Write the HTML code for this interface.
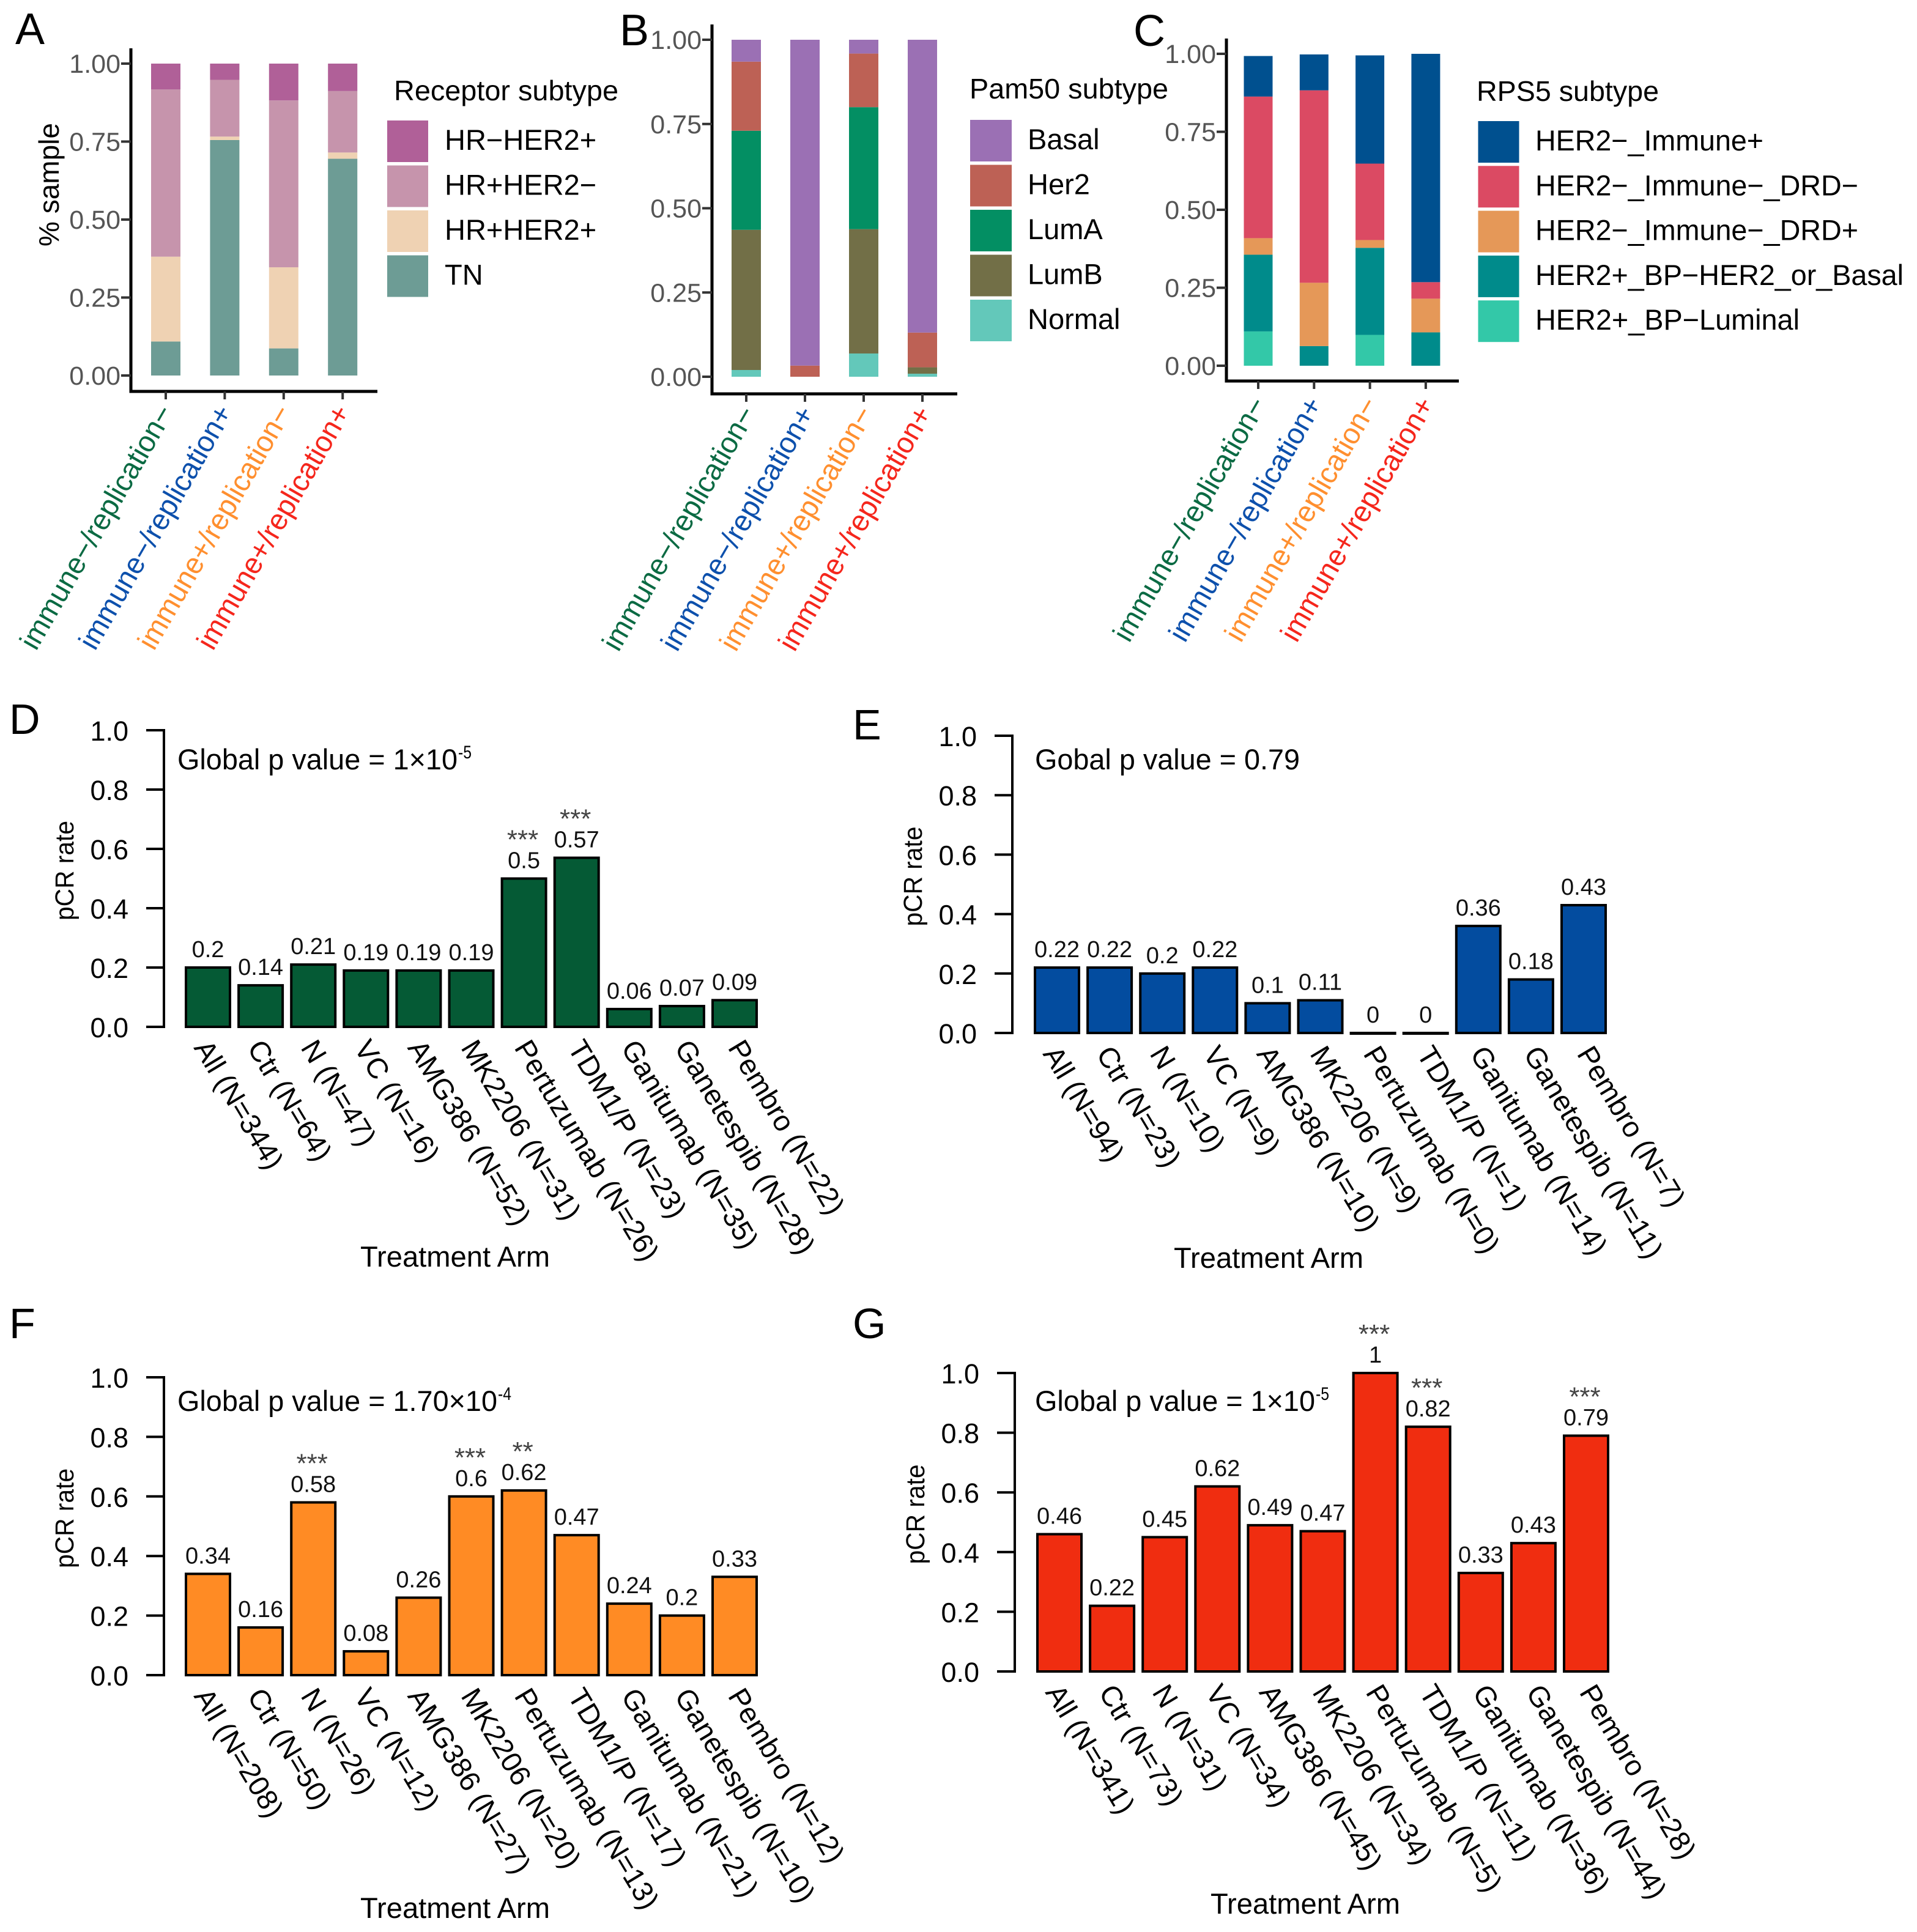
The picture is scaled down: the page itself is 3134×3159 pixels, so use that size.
<!DOCTYPE html>
<html lang="en">
<head>
<meta charset="utf-8">
<title>Response predictive subtypes and pCR rates</title>
<style>
html,body{margin:0;padding:0;background:#fff;}
svg{display:block;}
text{font-family:"Liberation Sans",Arial,sans-serif;}
</style>
</head>
<body>
<svg id="figure" xmlns="http://www.w3.org/2000/svg" width="3134" height="3159" viewBox="0 0 3134 3159"></svg>
<script>
// ---------- stacked chart data ----------
const groupLabels = ['immune\u2212/replication\u2212', 'immune\u2212/replication+', 'immune+/replication\u2212', 'immune+/replication+'];
const stackTicks = [0, 0.25, 0.5, 0.75, 1];
const stackTickLabels = ['0.00', '0.25', '0.50', '0.75', '1.00'];

const receptorNames = ['TN', 'HR+HER2+', 'HR+HER2\u2212', 'HR\u2212HER2+'];
const receptorTN = [0.109, 0.755, 0.087, 0.695];
const receptorHRpHER2p = [0.272, 0.011, 0.260, 0.020];
const receptorHRpHER2n = [0.536, 0.182, 0.535, 0.197];
const receptorHRnHER2p = [0.083, 0.052, 0.118, 0.088];

const pam50Names = ['Normal', 'LumB', 'LumA', 'Her2', 'Basal'];
const pam50Normal = [0.020, 0, 0.069, 0.009];
const pam50LumB = [0.416, 0, 0.369, 0.019];
const pam50LumA = [0.294, 0, 0.362, 0];
const pam50Her2 = [0.205, 0.033, 0.159, 0.103];
const pam50Basal = [0.065, 0.967, 0.041, 0.869];

const rps5Names = ['HER2+_BP\u2212Luminal', 'HER2+_BP\u2212HER2_or_Basal', 'HER2\u2212_Immune\u2212_DRD+', 'HER2\u2212_Immune\u2212_DRD\u2212', 'HER2\u2212_Immune+'];
const rps5Luminal = [0.110, 0, 0.099, 0];
const rps5HER2Basal = [0.246, 0.063, 0.279, 0.107];
const rps5DRDp = [0.053, 0.203, 0.025, 0.108];
const rps5DRDn = [0.454, 0.617, 0.245, 0.053];
const rps5Immune = [0.130, 0.115, 0.347, 0.732];

// ---------- pCR bar chart data ----------
const pcrTicks = [0, 0.2, 0.4, 0.6, 0.8, 1];
const pcrTickLabels = ['0.0', '0.2', '0.4', '0.6', '0.8', '1.0'];

const armsD = ['All (N=344)', 'Ctr (N=64)', 'N (N=47)', 'VC (N=16)', 'AMG386 (N=52)', 'MK2206 (N=31)', 'Pertuzumab (N=26)', 'TDM1/P (N=23)', 'Ganitumab (N=35)', 'Ganetespib (N=28)', 'Pembro (N=22)'];
const valuesD = [0.2, 0.14, 0.21, 0.19, 0.19, 0.19, 0.5, 0.57, 0.06, 0.07, 0.09];
const starsD = ['', '', '', '', '', '', '***', '***', '', '', ''];

const armsE = ['All (N=94)', 'Ctr (N=23)', 'N (N=10)', 'VC (N=9)', 'AMG386 (N=10)', 'MK2206 (N=9)', 'Pertuzumab (N=0)', 'TDM1/P (N=1)', 'Ganitumab (N=14)', 'Ganetespib (N=11)', 'Pembro (N=7)'];
const valuesE = [0.22, 0.22, 0.2, 0.22, 0.1, 0.11, 0, 0, 0.36, 0.18, 0.43];
const starsE = ['', '', '', '', '', '', '', '', '', '', ''];

const armsF = ['All (N=208)', 'Ctr (N=50)', 'N (N=26)', 'VC (N=12)', 'AMG386 (N=27)', 'MK2206 (N=20)', 'Pertuzumab (N=13)', 'TDM1/P (N=17)', 'Ganitumab (N=21)', 'Ganetespib (N=10)', 'Pembro (N=12)'];
const valuesF = [0.34, 0.16, 0.58, 0.08, 0.26, 0.6, 0.62, 0.47, 0.24, 0.2, 0.33];
const starsF = ['', '', '***', '', '', '***', '**', '', '', '', ''];

const armsG = ['All (N=341)', 'Ctr (N=73)', 'N (N=31)', 'VC (N=34)', 'AMG386 (N=45)', 'MK2206 (N=34)', 'Pertuzumab (N=5)', 'TDM1/P (N=11)', 'Ganitumab (N=36)', 'Ganetespib (N=44)', 'Pembro (N=28)'];
const valuesG = [0.46, 0.22, 0.45, 0.62, 0.49, 0.47, 1, 0.82, 0.33, 0.43, 0.79];
const starsG = ['', '', '', '', '', '', '***', '***', '', '', '***'];

// ---------- drawing ----------
const NS = 'http://www.w3.org/2000/svg';
const root = document.getElementById('figure');
const groupColors = ['#0b6a43', '#0d50ac', '#ff8f2f', '#f5261c'];

function slug(s) {
  return String(s).toLowerCase().replace(/[^a-z0-9]+/g, '-').replace(/^-|-$/g, '');
}
function label(el, name) {
  
  
  return el;
}
function group(parent, name) {
  const g = document.createElementNS(NS, 'g');
  label(g, name);
  parent.appendChild(g);
  return g;
}
function rect(parent, x, y, w, h, fill, stroke, sw) {
  const r = document.createElementNS(NS, 'rect');
  r.setAttribute('x', x);
  r.setAttribute('y', y);
  r.setAttribute('width', w);
  r.setAttribute('height', h);
  r.setAttribute('fill', fill);
  if (stroke) { r.setAttribute('stroke', stroke); r.setAttribute('stroke-width', sw); }
  parent.appendChild(r);
  return r;
}
function line(parent, x1, y1, x2, y2, color, sw) {
  const l = document.createElementNS(NS, 'line');
  l.setAttribute('x1', x1);
  l.setAttribute('y1', y1);
  l.setAttribute('x2', x2);
  l.setAttribute('y2', y2);
  l.setAttribute('stroke', color);
  l.setAttribute('stroke-width', sw);
  parent.appendChild(l);
  return l;
}
function text(parent, str, x, y, size, o) {
  o = o || {};
  const t = document.createElementNS(NS, 'text');
  t.textContent = str;
  t.setAttribute('x', x);
  t.setAttribute('y', y);
  t.setAttribute('font-size', size);
  t.setAttribute('fill', o.fill || '#000');
  if (o.anchor) t.setAttribute('text-anchor', o.anchor);
  if (o.rotate) t.setAttribute('transform', 'rotate(' + o.rotate + ' ' + x + ' ' + y + ')');
  if (o.length) {
    t.setAttribute('textLength', o.length);
    t.setAttribute('lengthAdjust', 'spacingAndGlyphs');
  }
  parent.appendChild(t);
  return t;
}

function drawStacked(p) {
  const g = group(root, 'panel-' + p.id + '-stacked-chart');
  const yScale = function (v) { return p.y0 + (p.y1 - p.y0) * v; };
  const xScale = function (i) { return p.x0 + i * p.step; };

  label(text(g, p.id, p.letterX, p.letterY, 72), 'panel-letter-' + p.id);

  groupLabels.forEach(function (name, i) {
    let cum = 0;
    p.series.forEach(function (values, s) {
      const top = yScale(cum + values[i]);
      const bottom = yScale(cum);
      const seg = rect(g, xScale(i) - p.barW / 2, top, p.barW, Math.max(0, bottom - top), p.colors[s]);
      label(seg, 'bar-' + slug(name) + '-' + slug(p.names[s]));
      cum += values[i];
    });
  });

  label(line(g, p.axisX, p.axisTop, p.axisX, p.axisBottom + 2.5, '#000', 5), 'y-axis-line');
  label(line(g, p.axisX, p.axisBottom, p.axisRight, p.axisBottom, '#000', 5), 'x-axis-line');

  stackTicks.forEach(function (v, i) {
    label(line(g, p.axisX - 16, yScale(v), p.axisX, yScale(v), '#333', 4), 'y-tick-' + stackTickLabels[i]);
    label(text(g, stackTickLabels[i], p.axisX - 17, yScale(v) + 15, 43, { anchor: 'end', fill: '#555' }), 'y-tick-label-' + stackTickLabels[i]);
  });

  groupLabels.forEach(function (name, i) {
    label(line(g, xScale(i), p.axisBottom, xScale(i), p.axisBottom + 13, '#333', 4), 'x-tick-' + slug(name));
    const tx = xScale(i) + p.labelDx;
    const ty = p.axisBottom + p.labelDy;
    label(text(g, name, tx, ty, 48, { anchor: 'end', fill: groupColors[i], rotate: -60, length: 452 }), 'x-tick-label-' + slug(name));
  });

  if (p.yTitle) {
    label(text(g, p.yTitle, 96, 302, 46, { anchor: 'middle', rotate: -90 }), 'y-axis-title');
  }

  label(text(g, p.legendTitle, p.titleX, p.titleY, 46, { length: p.titleW }), 'legend-title');
  const rev = p.names.slice().reverse();
  const revC = p.colors.slice().reverse();
  rev.forEach(function (name, i) {
    const y = p.keyY + i * p.keyStep;
    label(rect(g, p.keyX, y, p.keyW, p.keyH, revC[i]), 'legend-key-' + slug(name));
    const widthFactor = p.legendWidths ? p.legendWidths[i] : null;
    label(text(g, name, p.legendTextX, y + 48, 47, { length: widthFactor }), 'legend-label-' + slug(name));
  });
}

function drawBars(p) {
  const g = group(root, 'panel-' + p.id + '-bar-chart');
  const yScale = function (v) { return p.y0 + (p.y1 - p.y0) * v; };
  const xScale = function (i) { return p.x0 + i * 86.1; };
  const xLabelScale = function (i) { return p.x0 - 24 + i * 87.3; };

  label(text(g, p.id, p.letterX, p.letterY, 70), 'panel-letter-' + p.id);

  p.values.forEach(function (v, i) {
    const top = yScale(v);
    label(rect(g, xScale(i) - 36, top, 72, Math.max(1, p.y0 - top), p.color, '#000', 4), 'bar-' + slug(p.arms[i]));
    const baseline = top - 17;
    label(text(g, String(v), xScale(i), baseline, 38, { anchor: 'middle', fill: '#111' }), 'value-label-' + slug(p.arms[i]));
    if (p.stars[i]) {
      label(text(g, p.stars[i], xScale(i) - 2, baseline - 32, 44, { anchor: 'middle', fill: '#444' }), 'significance-' + slug(p.arms[i]));
    }
    const tx = xLabelScale(i);
    const ty = p.y0 + 34;
    label(text(g, p.arms[i], tx, ty, 47, { rotate: 59 }), 'x-tick-label-' + slug(p.arms[i]));
  });

  label(line(g, p.axisX, p.y1 - 2, p.axisX, p.y0 + 2, '#000', 4), 'y-axis-line');
  pcrTicks.forEach(function (v, i) {
    label(line(g, p.axisX - 29, yScale(v), p.axisX, yScale(v), '#000', 4), 'y-tick-' + pcrTickLabels[i]);
    label(text(g, pcrTickLabels[i], p.axisX - 58, yScale(v) + 17, 45, { anchor: 'end' }), 'y-tick-label-' + pcrTickLabels[i]);
  });

  label(text(g, 'pCR rate', p.axisX - 148, (p.y0 + p.y1) / 2 - 13, 43, { anchor: 'middle', rotate: -90, length: 163 }), 'y-axis-title');
  label(text(g, 'Treatment Arm', p.titleX, p.titleY, 47, { anchor: 'middle', length: 310 }), 'x-axis-title');

  const gt = text(g, p.globalText, p.globalX, p.globalY, 47, { length: p.globalW });
  label(gt, 'global-p-value');
  if (p.sup) {
    label(text(g, p.sup, p.globalX + p.globalW + 1, p.globalY - 18, 30, { length: 22 }), 'global-p-exponent');
  }
}

drawStacked({
  id: 'A', letterX: 25, letterY: 72, y0: 614, y1: 104, x0: 271, step: 96.4, barW: 48,
  axisX: 214, axisTop: 79, axisBottom: 640, axisRight: 617,
  labelDx: 14, labelDy: 34, yTitle: '% sample',
  names: receptorNames, series: [receptorTN, receptorHRpHER2p, receptorHRpHER2n, receptorHRnHER2p],
  colors: ['#6d9c95', '#efd2b3', '#c694ac', '#b06098'],
  legendTitle: 'Receptor subtype', titleX: 644, titleY: 164, titleW: 367,
  keyX: 633, keyY: 197, keyW: 67, keyH: 68, keyStep: 73.5, legendTextX: 727
});
drawStacked({
  id: 'B', letterX: 1013, letterY: 74, y0: 616, y1: 65, x0: 1220, step: 96, barW: 48,
  axisX: 1164, axisTop: 40, axisBottom: 644, axisRight: 1565,
  labelDx: 17, labelDy: 32,
  names: pam50Names, series: [pam50Normal, pam50LumB, pam50LumA, pam50Her2, pam50Basal],
  colors: ['#63c8ba', '#726f47', '#038f63', '#bd6155', '#9b70b4'],
  legendTitle: 'Pam50 subtype', titleX: 1585, titleY: 161, titleW: 325,
  keyX: 1586, keyY: 196, keyW: 68, keyH: 68, keyStep: 73.5, legendTextX: 1680
});
drawStacked({
  id: 'C', letterX: 1853, letterY: 75, y0: 598, y1: 88, x0: 2057, step: 91.3, barW: 47,
  axisX: 2005, axisTop: 63, axisBottom: 623, axisRight: 2385,
  labelDx: 15, labelDy: 38,
  names: rps5Names, series: [rps5Luminal, rps5HER2Basal, rps5DRDp, rps5DRDn, rps5Immune],
  colors: ['#33c8a8', '#008b8b', '#e59858', '#db4a63', '#00508f'],
  legendTitle: 'RPS5 subtype', titleX: 2414, titleY: 165, titleW: 298,
  keyX: 2416.5, keyY: 198, keyW: 67, keyH: 68, keyStep: 73.3, legendTextX: 2510,
  legendWidths: [373, 528, 528, 602, 432]
});

drawBars({
  id: 'D', letterX: 15, letterY: 1200, values: valuesD, arms: armsD, stars: starsD, color: '#055a35',
  x0: 340, y0: 1679, y1: 1194, axisX: 268,
  titleX: 744, titleY: 2071, globalText: 'Global p value = 1\u00d710', globalX: 290, globalY: 1258, globalW: 458, sup: '-5'
});
drawBars({
  id: 'E', letterX: 1394, letterY: 1209, values: valuesE, arms: armsE, stars: starsE, color: '#034c9f',
  x0: 1728, y0: 1689, y1: 1203, axisX: 1655,
  titleX: 2074, titleY: 2073, globalText: 'Gobal p value = 0.79', globalX: 1692, globalY: 1258, globalW: 433
});
drawBars({
  id: 'F', letterX: 15, letterY: 2188, values: valuesF, arms: armsF, stars: starsF, color: '#ff8b24',
  x0: 340, y0: 2739, y1: 2252, axisX: 268,
  titleX: 744, titleY: 3136, globalText: 'Global p value = 1.70\u00d710', globalX: 290, globalY: 2307, globalW: 523, sup: '-4'
});
drawBars({
  id: 'G', letterX: 1394, letterY: 2188, values: valuesG, arms: armsG, stars: starsG, color: '#f02d10',
  x0: 1732, y0: 2733, y1: 2245, axisX: 1659,
  titleX: 2134, titleY: 3129, globalText: 'Global p value = 1\u00d710', globalX: 1692, globalY: 2307, globalW: 458, sup: '-5'
});
</script>
</body>
</html>
